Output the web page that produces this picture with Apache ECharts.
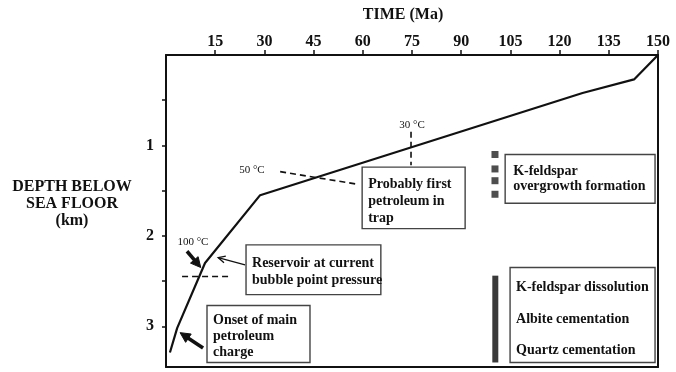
<!DOCTYPE html>
<html><head><meta charset="utf-8">
<script src="https://cdn.jsdelivr.net/npm/echarts/dist/echarts.min.js"></script>
<style>html,body{margin:0;padding:0;background:#fff}#c{width:676px;height:372px}</style>
</head><body><div id="c"></div>
<script>
// ---- data ----
const timeTickLabels = [15, 30, 45, 60, 75, 90, 105, 120, 135, 150];
const depthTicks = [0.5, 1, 1.5, 2, 2.5, 3];
const depthTickLabels = [1, 2, 3];
const burialTime  = [1.2, 3.4, 11.9, 28.7, 127, 142.7, 150];
const burialDepth = [3.29, 3.02, 2.30, 1.55, 0.42, 0.27, 0];
const overgrowthTime  = [100.3, 100.3, 100.3, 100.3];
const overgrowthDepth = [1.10, 1.26, 1.39, 1.54];
const dissolutionTime  = [100.4, 100.4];
const dissolutionDepth = [2.44, 3.40];

const SERIF = '"Liberation Serif","DejaVu Serif",serif';
const chart = echarts.init(document.getElementById('c'), null, {renderer: 'canvas'});

const axisLineStyle = {color: '#111', width: 2};
const option = {
  animation: false,
  backgroundColor: '#fff',
  grid: {left: 166, right: 18, top: 55, bottom: 5},
  xAxis: [
    {type: 'value', position: 'top', min: 0, max: 150, interval: 15,
     axisLine: {show: true, lineStyle: axisLineStyle},
     axisTick: {show: true, inside: false, length: 5, customValues: timeTickLabels, lineStyle: {color: '#111', width: 1.5}},
     axisLabel: {margin: 5, color: '#111', fontFamily: SERIF, fontWeight: 'bold', fontSize: 16,
       customValues: timeTickLabels, formatter: v => String(v)},
     splitLine: {show: false}},
    {type: 'value', position: 'bottom', min: 0, max: 150,
     axisLine: {show: true, onZero: false, lineStyle: axisLineStyle},
     axisTick: {show: false}, axisLabel: {show: false}, splitLine: {show: false}}
  ],
  yAxis: [
    {type: 'value', position: 'left', inverse: true, min: 0, max: 3.45, interval: 0.5,
     axisLine: {show: true, onZero: false, lineStyle: axisLineStyle},
     axisTick: {show: true, inside: false, length: 4, customValues: depthTicks, lineStyle: {color: '#111', width: 1.5}},
     axisLabel: {margin: 12, color: '#111', fontFamily: SERIF, fontWeight: 'bold', fontSize: 16,
       customValues: depthTickLabels, formatter: v => String(v)},
     splitLine: {show: false}},
    {type: 'value', position: 'right', inverse: true, min: 0, max: 3.45,
     axisLine: {show: true, onZero: false, lineStyle: axisLineStyle},
     axisTick: {show: false}, axisLabel: {show: false}, splitLine: {show: false}}
  ],
  series: [
    {type: 'line', xAxisIndex: 0, yAxisIndex: 0, symbol: 'none',
     lineStyle: {color: '#111', width: 2.2},
     data: burialTime.map((t, i) => [t, burialDepth[i]])},
    {type: 'scatter', xAxisIndex: 0, yAxisIndex: 0, symbol: 'rect', symbolSize: 7,
     itemStyle: {color: '#222'},
     data: overgrowthTime.map((t, i) => [t, overgrowthDepth[i]])},
    {type: 'line', xAxisIndex: 0, yAxisIndex: 0, symbol: 'none',
     lineStyle: {color: '#3a3a3a', width: 6, cap: 'butt'},
     data: dissolutionTime.map((t, i) => [t, dissolutionDepth[i]])}
  ]
};
chart.setOption(option);

// ---- annotations (anchored in data coordinates) ----
function P(t, d) { return chart.convertToPixel({xAxisIndex: 0, yAxisIndex: 0}, [t, d]); }

const annTexts = [
  {t: 75.0, d: 0.77, text: '30 \u00B0C', size: 11},
  {t: 26.2, d: 1.27, text: '50 \u00B0C', size: 11},
  {t: 8.2,  d: 2.07, text: '100 \u00B0C', size: 11}
];
const dashed = [
  [[74.7, 0.85], [74.7, 1.22]],
  [[34.8, 1.29], [58.5, 1.43]],
  [[4.9, 2.45], [19.5, 2.45]]
];
const boxes = [
  {a: [59.8, 1.24], b: [91.2, 1.92], dx: 6, dy: 17, step: 17, lines: ['Probably first', 'petroleum in', 'trap']},
  {a: [24.4, 2.10], b: [65.5, 2.65], dx: 6, dy: 18, step: 17, lines: ['Reservoir at current', 'bubble point pressure']},
  {a: [12.5, 2.77], b: [43.9, 3.40], dx: 6, dy: 15, step: 16, lines: ['Onset of main', 'petroleum', 'charge']},
  {a: [103.4, 1.10], b: [149.1, 1.64], dx: 8, dy: 17, step: 15, lines: ['K-feldspar', 'overgrowth formation']},
  {a: [104.9, 2.35], b: [149.1, 3.40], dx: 6, dy: 20, step: 31.5, lines: ['K-feldspar dissolution', 'Albite cementation', 'Quartz cementation']}
];
const arrows = [
  {from: [6.4, 2.17], to: [10.6, 2.35], w: 3.6, hl: 10, hw: 10, open: false},
  {from: [24.1, 2.32], to: [15.9, 2.24], w: 1.3, hl: 7, hw: 7, open: true},
  {from: [11.3, 3.24], to: [4.3, 3.07], w: 3.6, hl: 10, hw: 10, open: false}
];

const g = [];
g.push({type: 'text', style: {text: 'TIME (Ma)', x: 403, y: 15, textAlign: 'center', textVerticalAlign: 'middle',
  align: 'center', verticalAlign: 'middle', font: 'bold 16px ' + SERIF, fill: '#111'}});
['DEPTH BELOW', 'SEA FLOOR', '(km)'].forEach((s, i) => {
  g.push({type: 'text', style: {text: s, x: 72, y: 187 + i * 17, textAlign: 'center', textVerticalAlign: 'middle',
    align: 'center', verticalAlign: 'middle', font: 'bold 16px ' + SERIF, fill: '#111'}});
});
annTexts.forEach(a => {
  const p = P(a.t, a.d);
  g.push({type: 'text', style: {text: a.text, x: p[0], y: p[1], textAlign: 'center', textVerticalAlign: 'middle',
    align: 'center', verticalAlign: 'middle', font: a.size + 'px ' + SERIF, fill: '#111'}});
});
dashed.forEach(l => {
  const p0 = P(l[0][0], l[0][1]), p1 = P(l[1][0], l[1][1]);
  g.push({type: 'line', shape: {x1: p0[0], y1: p0[1], x2: p1[0], y2: p1[1]},
    style: {stroke: '#111', lineWidth: 1.6, lineDash: [6, 4]}});
});
boxes.forEach(b => {
  const p0 = P(b.a[0], b.a[1]), p1 = P(b.b[0], b.b[1]);
  g.push({type: 'rect', shape: {x: p0[0], y: p0[1], width: p1[0] - p0[0], height: p1[1] - p0[1]},
    style: {fill: '#fff', stroke: '#444', lineWidth: 1.4}});
  b.lines.forEach((s, i) => {
    g.push({type: 'text', style: {text: s, x: p0[0] + b.dx, y: p0[1] + b.dy + i * b.step,
      textAlign: 'left', textVerticalAlign: 'middle', align: 'left', verticalAlign: 'middle',
      font: 'bold 14px ' + SERIF, fill: '#111'}});
  });
});
arrows.forEach(a => {
  const p0 = P(a.from[0], a.from[1]), p1 = P(a.to[0], a.to[1]);
  const dx = p1[0] - p0[0], dy = p1[1] - p0[1], L = Math.hypot(dx, dy);
  const ux = dx / L, uy = dy / L, nx = -uy, ny = ux;
  const bx = p1[0] - ux * a.hl, by = p1[1] - uy * a.hl;
  const l1 = [bx + nx * a.hw / 2, by + ny * a.hw / 2], l2 = [bx - nx * a.hw / 2, by - ny * a.hw / 2];
  if (a.open) {
    g.push({type: 'line', shape: {x1: p0[0], y1: p0[1], x2: p1[0], y2: p1[1]}, style: {stroke: '#111', lineWidth: a.w}});
    g.push({type: 'polyline', shape: {points: [l1, p1, l2]}, style: {stroke: '#111', lineWidth: a.w, fill: null}});
  } else {
    g.push({type: 'line', shape: {x1: p0[0], y1: p0[1], x2: bx + ux * 1, y2: by + uy * 1}, style: {stroke: '#111', lineWidth: a.w}});
    g.push({type: 'polygon', shape: {points: [l1, p1, l2]}, style: {fill: '#111', stroke: '#111', lineWidth: 1}});
  }
});
chart.setOption({graphic: g});
</script>
</body></html>
